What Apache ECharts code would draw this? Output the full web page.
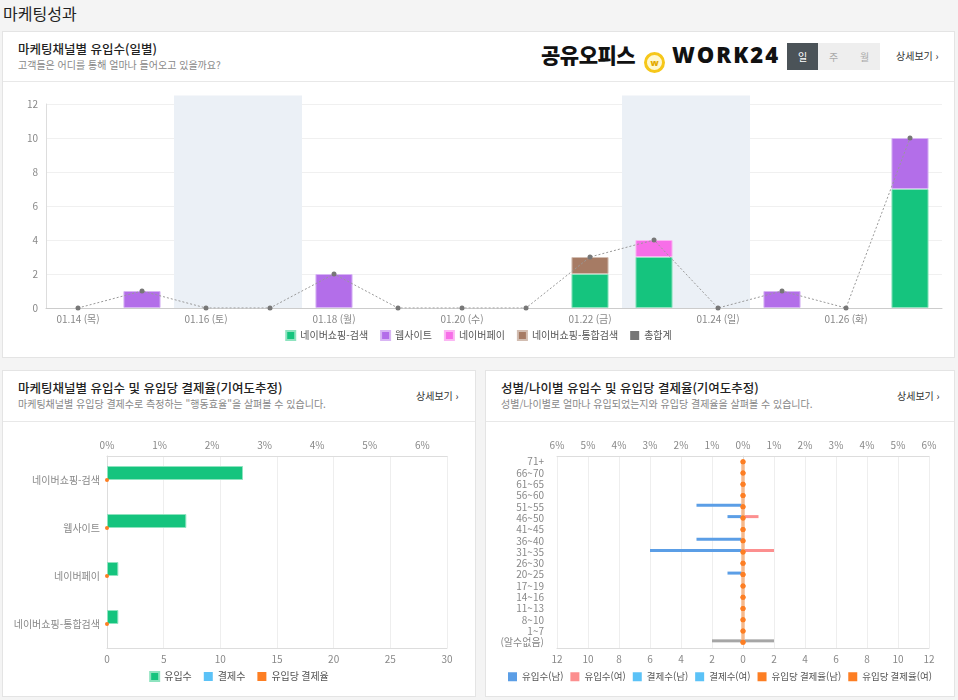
<!DOCTYPE html>
<html lang="ko">
<head>
<meta charset="utf-8">
<title>마케팅성과</title>
<script src="https://cdn.jsdelivr.net/npm/echarts@6/dist/echarts.min.js"></script>
<style>
body {
  margin: 0;
  width: 958px;
  height: 700px;
  position: relative;
  overflow: hidden;
  background: #f4f4f4;
  font-family: "Noto Sans CJK KR", "Noto Sans", sans-serif;
}
.page-title { position: absolute; left: 3px; top: 1px; font-size: 16px; color: #222; }
.panel { position: absolute; background: #fff; border: 1px solid #e4e4e4; box-sizing: border-box; }
.head { position: absolute; left: 0; right: 0; top: 0; border-bottom: 1px solid #e8e8e8; }
.head h3 { margin: 0; position: absolute; left: 15px; top: 7px; font-size: 12.5px; font-weight: 500; color: #222; white-space: nowrap; }
.head p { margin: 0; position: absolute; left: 15px; top: 25px; font-size: 10px; color: #888; white-space: nowrap; }
.more { position: absolute; font-size: 10px; color: #333; white-space: nowrap; }
.logo { position: absolute; left: 538px; top: 7px; font-weight: 900; color: #111; white-space: nowrap; }
.logo .ko { font-size: 21px; letter-spacing: -0.5px; }
.logo .en { font-size: 22px; letter-spacing: 2px; font-family: "Noto Sans", sans-serif; }
.logo .coin { display: inline-block; width: 21px; height: 21px; border-radius: 50%; border: 3px solid #f6c71a; background: #fff8d0; vertical-align: -3px; margin: 0 7px 0 9px; box-sizing: border-box; font-size: 9px; line-height: 15px; text-align: center; color: #e3a900; font-family: "Noto Sans", sans-serif; }
.tabs { position: absolute; left: 784px; top: 11px; display: flex; }
.tabs span { width: 31px; height: 27px; line-height: 27px; text-align: center; font-size: 10px; background: #eee; color: #aaa; }
.tabs span.on { background: #4b5358; color: #fff; }
.chart { position: absolute; }
</style>
</head>
<body>
<div class="page-title">마케팅성과</div>

<div class="panel" style="left:2px;top:31px;width:953px;height:327px;">
  <div class="head" style="height:49px;">
    <h3>마케팅채널별 유입수(일별)</h3>
    <p>고객들은 어디를 통해 얼마나 들어오고 있을까요?</p>
    <div class="logo"><span class="ko">공유오피스</span><span class="coin">w</span><span class="en">WORK24</span></div>
    <div class="tabs"><span class="on">일</span><span>주</span><span>월</span></div>
    <div class="more" style="left:893px;top:16px;">상세보기 ›</div>
  </div>
</div>

<div class="panel" style="left:2px;top:370px;width:474px;height:327px;">
  <div class="head" style="height:50px;">
    <h3>마케팅채널별 유입수 및 유입당 결제율(기여도추정)</h3>
    <p>마케팅채널별 유입당 결제수로 측정하는 "행동효율"을 살펴볼 수 있습니다.</p>
    <div class="more" style="left:413px;top:17px;">상세보기 ›</div>
  </div>
</div>

<div class="panel" style="left:485px;top:370px;width:470px;height:327px;">
  <div class="head" style="height:50px;">
    <h3>성별/나이별 유입수 및 유입당 결제율(기여도추정)</h3>
    <p>성별/나이별로 얼마나 유입되었는지와 유입당 결제율을 살펴볼 수 있습니다.</p>
    <div class="more" style="left:411px;top:17px;">상세보기 ›</div>
  </div>
</div>

<div id="dailyChart" class="chart" style="left:3px;top:81px;width:951px;height:276px;"></div>
<div id="channelChart" class="chart" style="left:3px;top:421px;width:472px;height:275px;"></div>
<div id="ageChart" class="chart" style="left:486px;top:421px;width:468px;height:275px;"></div>

<script>
// 일별 유입수
const days = ['01.14 (목)', '01.15 (금)', '01.16 (토)', '01.17 (일)', '01.18 (월)', '01.19 (화)', '01.20 (수)',
  '01.21 (목)', '01.22 (금)', '01.23 (토)', '01.24 (일)', '01.25 (월)', '01.26 (화)', '01.27 (수)']
const naverSearch = [0, 0, 0, 0, 0, 0, 0, 0, 2, 3, 0, 0, 0, 7]
const website = [0, 1, 0, 0, 2, 0, 0, 0, 0, 0, 0, 1, 0, 3]
const naverPay = [0, 0, 0, 0, 0, 0, 0, 0, 0, 1, 0, 0, 0, 0]
const naverIntegrated = [0, 0, 0, 0, 0, 0, 0, 0, 1, 0, 0, 0, 0, 0]
const dailyTotal = [0, 1, 0, 0, 2, 0, 0, 0, 3, 4, 0, 1, 0, 10]
const weekendDays = ['01.16 (토)', '01.17 (일)', '01.23 (토)', '01.24 (일)']
const weekendTop = 12.5 // shading runs a bit past the top gridline

// 채널별 유입수 / 결제율
const channels = ['네이버쇼핑-검색', '웹사이트', '네이버페이', '네이버쇼핑-통합검색']
const channelInflow = [12, 7, 1, 1]
const channelPayments = [0, 0, 0, 0]
const channelPayRate = [0, 0, 0, 0]

// 성별/나이별
const ageGroups = ['71+', '66~70', '61~65', '56~60', '51~55', '46~50', '41~45', '36~40', '31~35',
  '26~30', '20~25', '17~19', '14~16', '11~13', '8~10', '1~7', '(알수없음)']
const inflowMale = [0, 0, 0, 0, 3, 1, 0, 3, 6, 0, 1, 0, 0, 0, 0, 0, 2]
const inflowFemale = [0, 0, 0, 0, 0, 1, 0, 0, 2, 0, 0, 0, 0, 0, 0, 0, 2]
const paymentsMale = [0, 0, 0, 0, 0, 0, 0, 0, 0, 0, 0, 0, 0, 0, 0, 0, 0]
const paymentsFemale = [0, 0, 0, 0, 0, 0, 0, 0, 0, 0, 0, 0, 0, 0, 0, 0, 0]
const rateMale = [0, 0, 0, 0, 0, 0, 0, 0, 0, 0, 0, 0, 0, 0, 0, 0, 0]
const rateFemale = [0, 0, 0, 0, 0, 0, 0, 0, 0, 0, 0, 0, 0, 0, 0, 0, 0]

const FONT = '"Noto Sans CJK KR", "Noto Sans", sans-serif'
const axisText = { color: '#888', fontSize: 10, fontFamily: FONT }
const legendText = { color: '#555', fontSize: 10, fontFamily: FONT }

// empty days draw nothing (a 0 bar would still show its border)
const orEmpty = arr => arr.map(v => v || null)

function barSeries (name, data, color, border) {
  return {
    type: 'bar',
    name,
    stack: 'daily',
    data: orEmpty(data),
    barCategoryGap: '42%',
    itemStyle: { color, borderColor: border, borderWidth: 1 }
  }
}

const dailyChart = echarts.init(document.getElementById('dailyChart'))
dailyChart.setOption({
  animation: false,
  textStyle: { fontFamily: FONT },
  grid: { left: 43, right: 12, top: 23, bottom: 49 },
  legend: {
    top: 244,
    left: 'center',
    icon: 'rect',
    itemWidth: 9,
    itemHeight: 9,
    itemGap: 12,
    data: ['네이버쇼핑-검색', '웹사이트', '네이버페이', '네이버쇼핑-통합검색', '총합계'],
    textStyle: legendText
  },
  xAxis: [
    {
      type: 'category',
      data: days,
      axisLine: { lineStyle: { color: '#ccc' } },
      axisTick: { interval: 0, alignWithLabel: true, length: 4, lineStyle: { color: '#ccc' } },
      axisLabel: { ...axisText, interval: 1, margin: 6 }
    },
    { type: 'category', data: days, show: false }
  ],
  yAxis: {
    type: 'value',
    min: 0,
    max: 12,
    interval: 2,
    axisLine: { show: true, lineStyle: { color: '#ddd' } },
    axisLabel: { ...axisText, margin: 8 },
    splitLine: { lineStyle: { color: '#f0f0f0' } }
  },
  series: [
    {
      type: 'bar',
      name: '주말',
      xAxisIndex: 1,
      data: days.map(d => weekendDays.includes(d) ? weekendTop : null),
      barCategoryGap: 0,
      clip: false,
      silent: true,
      itemStyle: { color: '#ebf0f6' },
      z: 0
    },
    barSeries('네이버쇼핑-검색', naverSearch, '#15c47e', '#8ee3bf'),
    barSeries('웹사이트', website, '#b36ee9', '#d8b5f4'),
    barSeries('네이버페이', naverPay, '#f76ee8', '#fbb6f3'),
    barSeries('네이버쇼핑-통합검색', naverIntegrated, '#a67b64', '#d2bdb1'),
    {
      type: 'line',
      name: '총합계',
      data: dailyTotal,
      symbol: 'circle',
      symbolSize: 5,
      itemStyle: { color: '#777' },
      lineStyle: { color: '#999', width: 1, type: [2, 2] },
      z: 5
    }
  ]
})

const channelChart = echarts.init(document.getElementById('channelChart'))
channelChart.setOption({
  animation: false,
  textStyle: { fontFamily: FONT },
  grid: { left: 104, right: 28, top: 35, bottom: 48 },
  legend: {
    top: 245,
    left: 'center',
    icon: 'rect',
    itemWidth: 9,
    itemHeight: 9,
    itemGap: 12,
    textStyle: legendText
  },
  xAxis: [
    {
      type: 'value',
      position: 'bottom',
      min: 0,
      max: 30,
      interval: 5,
      axisLine: { show: true, lineStyle: { color: '#ddd' } },
      axisLabel: { ...axisText, margin: 6 },
      splitLine: { lineStyle: { color: '#eee' } }
    },
    {
      type: 'value',
      position: 'top',
      min: 0,
      max: 6.47,
      interval: 1,
      axisLine: { show: true, lineStyle: { color: '#ddd' } },
      axisLabel: { ...axisText, margin: 6, formatter: v => Number.isInteger(v) ? v + '%' : '' },
      splitLine: { show: false }
    }
  ],
  yAxis: {
    type: 'category',
    data: channels,
    inverse: true,
    axisLine: { lineStyle: { color: '#ddd' } },
    axisTick: { length: 4, lineStyle: { color: '#ddd' } },
    axisLabel: { ...axisText, margin: 7 }
  },
  series: [
    {
      type: 'bar',
      name: '유입수',
      data: channelInflow,
      barWidth: 14,
      barGap: '0%',
      itemStyle: { color: '#15c47e', borderColor: '#8ee3bf', borderWidth: 1 }
    },
    {
      type: 'bar',
      name: '결제수',
      data: channelPayments,
      barWidth: 14,
      itemStyle: { color: '#5bc2f7' }
    },
    {
      type: 'line',
      name: '유입당 결제율',
      xAxisIndex: 1,
      data: channelPayRate,
      symbol: 'circle',
      symbolSize: 4,
      itemStyle: { color: '#fd7e23' },
      lineStyle: { width: 0 }
    }
  ]
})

const ageChart = echarts.init(document.getElementById('ageChart'))
const GRAY = { color: '#a6a6a6' }
ageChart.setOption({
  animation: false,
  textStyle: { fontFamily: FONT },
  grid: { left: 71, right: 25, top: 35, bottom: 48 },
  legend: {
    top: 246,
    left: 'center',
    icon: 'rect',
    itemWidth: 9,
    itemHeight: 9,
    itemGap: 7,
    textStyle: { ...legendText, fontSize: 9.5 }
  },
  xAxis: [
    {
      type: 'value',
      position: 'bottom',
      min: -12,
      max: 12,
      interval: 2,
      axisLine: { show: true, lineStyle: { color: '#ddd' } },
      axisLabel: { ...axisText, margin: 6, formatter: v => Math.abs(v) },
      splitLine: { lineStyle: { color: '#eee' } }
    },
    {
      type: 'value',
      position: 'top',
      min: -6,
      max: 6,
      interval: 1,
      axisLine: { show: true, lineStyle: { color: '#ddd' } },
      axisLabel: { ...axisText, margin: 6, formatter: v => Math.abs(v) + '%' },
      splitLine: { show: false }
    }
  ],
  yAxis: {
    type: 'category',
    data: ageGroups,
    inverse: true,
    axisLine: { lineStyle: { color: '#ddd' } },
    axisTick: { length: 5, lineStyle: { color: '#ddd' } },
    axisLabel: { ...axisText, margin: 13, interval: 0 }
  },
  series: [
    {
      type: 'bar',
      name: '유입수(남)',
      stack: 'inflow',
      barWidth: 3,
      barGap: '0%',
      data: inflowMale.map((v, i) => ageGroups[i] === '(알수없음)' ? { value: -v, itemStyle: GRAY } : -v),
      itemStyle: { color: '#5b9ee6' }
    },
    {
      type: 'bar',
      name: '유입수(여)',
      stack: 'inflow',
      barWidth: 3,
      data: inflowFemale.map((v, i) => ageGroups[i] === '(알수없음)' ? { value: v, itemStyle: GRAY } : v),
      itemStyle: { color: '#fc8f8f' }
    },
    {
      type: 'bar',
      name: '결제수(남)',
      stack: 'pay',
      barWidth: 3,
      data: paymentsMale.map(v => -v),
      itemStyle: { color: '#5bc2f7' }
    },
    {
      type: 'bar',
      name: '결제수(여)',
      stack: 'pay',
      barWidth: 3,
      data: paymentsFemale,
      itemStyle: { color: '#5bc2f7' }
    },
    {
      type: 'line',
      name: '유입당 결제율(남)',
      xAxisIndex: 1,
      data: rateMale.map(v => -v),
      symbol: 'circle',
      symbolSize: 5,
      itemStyle: { color: '#fd7e23' },
      lineStyle: { color: '#f5b98c', width: 3 },
      z: 5
    },
    {
      type: 'line',
      name: '유입당 결제율(여)',
      xAxisIndex: 1,
      data: rateFemale,
      symbol: 'circle',
      symbolSize: 5,
      itemStyle: { color: '#fd7e23' },
      lineStyle: { color: '#f5b98c', width: 3 },
      z: 5
    }
  ]
})
</script>
</body>
</html>
